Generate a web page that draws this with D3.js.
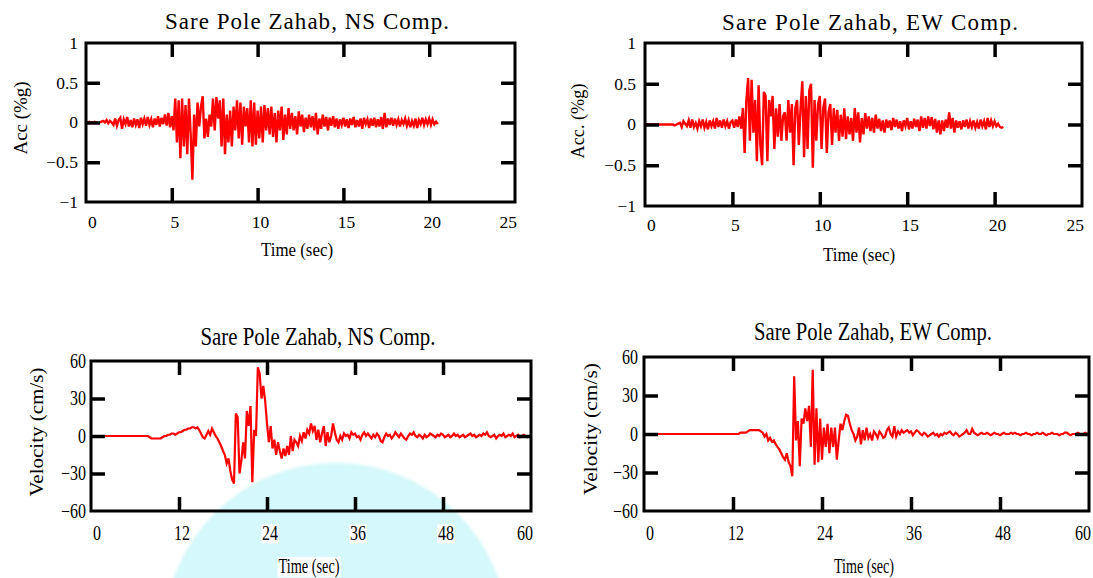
<!DOCTYPE html>
<html>
<head>
<meta charset="utf-8">
<script src="https://cdn.jsdelivr.net/npm/d3@7"></script>
<style>
  body { margin: 0; background: #fff; }
  svg { display: block; font-family: "Liberation Serif", "Times New Roman", serif; }
</style>
</head>
<body>
<div id="chart"></div>
<script>
// ---- data ----
const accStep = 0.1;   // sec between acceleration samples
const velStep = 0.25;  // sec between velocity samples

// NS acceleration (%g), t = 0 .. 20.5 s
const accNS = [
  0,0,0.01,0,0,0.01,0,-0.01,0,0.01,
  0.02,0,0.03,-0.01,0.02,0,-0.03,0.05,-0.04,0.03,
  0.06,-0.08,0.04,-0.02,0.07,-0.05,0.03,-0.06,0.05,-0.03,
  0.04,-0.07,0.06,-0.02,0.05,-0.04,0.07,-0.03,0.04,-0.06,
  0.05,-0.03,0.08,-0.05,0.06,-0.02,0.1,-0.04,0.12,-0.06,
  0.08,-0.1,0.3,-0.25,0.28,-0.45,0.3,-0.3,0.22,-0.4,
  0.3,-0.15,-0.72,0.1,-0.3,0.25,-0.05,0.2,0.33,-0.2,
  0.05,-0.18,0.1,-0.05,0.3,-0.1,0.32,0.05,0.28,-0.3,
  0.3,-0.4,0.1,-0.25,0.15,-0.3,0.2,-0.1,0.28,-0.2,
  0.25,-0.28,0.2,-0.05,0.18,-0.25,0.28,-0.3,0.25,-0.28,
  0.15,-0.2,0.2,-0.25,0.22,-0.1,0.18,-0.15,0.2,-0.18,
  0.12,-0.25,0.15,-0.1,0.2,-0.22,0.1,-0.15,0.18,-0.08,
  0.12,-0.1,0.08,-0.15,0.14,-0.05,0.1,-0.12,0.06,-0.08,
  0.1,-0.06,0.08,-0.1,0.12,-0.15,0.05,-0.08,0.1,-0.05,
  0.07,-0.1,0.06,-0.04,0.08,-0.06,0.05,-0.08,0.04,-0.03,
  0.06,-0.05,0.04,-0.07,0.05,-0.03,0.07,-0.06,0.03,-0.05,
  0.05,-0.08,0.06,-0.02,0.04,-0.07,0.05,-0.04,0.06,-0.06,
  0.04,-0.05,0.07,-0.08,0.12,-0.06,0.05,-0.03,0.06,-0.04,
  0.05,-0.03,0.04,-0.05,0.03,-0.02,0.05,-0.04,0.03,-0.06,
  0.02,-0.04,0.05,-0.07,0.03,-0.02,0.06,-0.03,0.04,-0.02,
  0.05,-0.03,0.04,-0.02,0.01,-0.02
];

// EW acceleration (%g), t = 0 .. 20.5 s
const accEW = [
  0,0,0,0,0,0,0,0,0,0,
  0,0,0,0,0,0,0,-0.01,0,0.01,
  0.02,-0.03,0.04,0.01,-0.02,0.05,-0.04,0.06,-0.03,0.02,
  -0.05,0.04,-0.02,0.06,-0.04,0.03,-0.06,0.05,-0.02,0.04,
  -0.05,0.08,-0.03,0.05,-0.04,0.06,-0.02,0.04,-0.05,0.03,
  0.05,-0.04,0.06,-0.03,0.1,-0.05,0.2,-0.35,0.3,0.57,
  -0.2,0.55,-0.1,0.3,-0.45,0.48,-0.25,-0.5,0.4,0.35,
  -0.45,0.3,0.1,0.35,-0.3,0.2,-0.15,0.25,-0.2,0.1,
  0.15,-0.2,0.3,-0.1,0.25,-0.5,0.2,0.3,-0.25,0.2,
  0.53,-0.4,0.35,-0.3,0.42,0.5,-0.53,0.3,-0.2,0.25,
  0.35,-0.3,0.2,0.32,-0.35,0.15,0.25,-0.25,0.2,-0.1,
  0.18,-0.2,0.12,-0.15,0.2,-0.18,0.1,-0.12,0.08,-0.2,
  0.2,-0.1,0.15,-0.22,0.08,-0.12,0.14,-0.05,0.1,-0.08,
  0.08,-0.1,0.12,-0.05,0.07,-0.08,0.05,-0.1,0.06,-0.04,
  0.05,-0.07,0.08,-0.03,0.06,-0.05,0.04,-0.08,0.05,-0.02,
  0.08,-0.06,0.04,-0.05,0.07,-0.03,0.06,-0.08,0.1,-0.04,
  0.08,-0.05,0.1,-0.02,0.09,-0.06,0.07,-0.1,0.05,-0.12,
  0.05,-0.08,0.06,-0.04,0.15,-0.05,0.08,-0.1,0.05,-0.04,
  0.04,-0.06,0.05,-0.03,0.06,-0.05,0.04,-0.03,0.05,-0.04,
  0.03,-0.05,0.06,-0.02,0.04,-0.06,0.08,-0.03,0.05,-0.02,
  0.04,-0.02,0.01,-0.03,-0.04,-0.03
];

// NS velocity (cm/s), t = 0 .. 60 s
const velNS = [
  0,0,0,0, 0,0,0,0, 0,0,0,0, 0,0,0,0, 0,0,0,0, 0,0,0,0, 0,0,0,0, 0,0,0,0,
  -1,-2,-2,-2, -2,-2,-2,-1,
  0,0,1,1, 2,2,1,2,
  3,3,4,5, 5,6,6,7,
  7,6,7,5, 2,-1,-2,1,
  4,1,6,3,
  0,-2,-5,-8,
  -12,-15,-22,-18,
  -28,-35,-38,18,
  15,-30,-20,-5,
  -18,20,8,24,
  -37,5,0,55,
  50,30,40,28,
  10,-5,8,-10,
  -3,-15,-5,-12,
  -18,-10,-16,-8,
  -15,0,-12,-3,
  -5,-8,0,-4,
  3,-2,5,2,
  10,4,8,-3,
  5,-5,2,8,
  -8,3,-5,0,
  10,3,-3,-5,
  0,-3,2,0,
  1,-2,3,1,
  2,-1,0,-3,
  1,3,0,2,
  0,-2,1,-1,
  2,0,-4,-5,
  -1,2,0,1,
  -2,0,3,1,
  -1,2,0,-2,
  -3,0,2,1,
  3,0,-1,1,
  0,-2,1,-1,
  0,2,1,0,
  -1,1,0,2,
  1,-1,0,1,
  -1,0,2,0,
  1,-1,0,1,
  -1,0,1,2,
  0,1,-1,0,
  1,0,2,1,
  3,0,-1,0,
  1,-2,0,1,
  0,2,-1,0,
  1,0,2,-1,
  0,1,-1,0,
  1,0,-1,0,
  0
];

// EW velocity (cm/s), t = 0 .. 60 s
const velEW = [
  0,0,0,0, 0,0,0,0, 0,0,0,0, 0,0,0,0, 0,0,0,0, 0,0,0,0, 0,0,0,0,
  0,0,0,0, 0,0,0,0, 0,0,0,0, 0,0,0,0, 0,0,0,0, 0,0,0,0,
  1,1,1,1,
  2,3,3,3,
  3,3,3,2,
  1,-2,0,-5,
  -3,-6,-5,-8,
  -10,-12,-15,-18,
  -20,-15,-22,-25,
  -33,45,-5,10,
  -25,12,8,20,
  10,22,-10,50,
  -24,20,-22,12,
  -20,5,-10,8,
  -15,5,-10,5,
  -20,-5,8,3,
  10,15,14,8,
  3,0,-5,-2,
  5,-8,3,-5,
  5,-3,0,-5,
  2,0,-3,2,
  0,-3,-2,3,
  5,0,-2,6,
  -2,2,0,3,
  1,2,3,1,
  2,-1,1,3,
  2,0,-1,1,
  0,-2,-1,0,
  1,-1,0,-2,
  0,-1,1,0,
  1,2,0,-1,
  1,0,-2,-1,
  0,1,3,0,
  0,4,1,0,
  -1,0,1,0,
  0,1,0,-1,
  0,1,0,0,
  -1,0,1,0,
  0,0,1,0,
  1,0,0,-1,
  0,0,1,0,
  0,-1,0,0,
  1,0,0,1,
  0,-1,0,0,
  1,0,0,0,
  -1,0,0,1,
  1,0,-1,0,
  0,0,1,0,
  0,0,1,0,
  0
];

const accXTicks = [0, 5, 10, 15, 20, 25];
const accYTicks = [-1, -0.5, 0, 0.5, 1];
const velXTicks = [0, 12, 24, 36, 48, 60];
const velYTicks = [-60, -30, 0, 30, 60];

const titles = ["Sare Pole Zahab, NS Comp.", "Sare Pole Zahab, EW Comp.",
                "Sare Pole Zahab, NS Comp.", "Sare Pole Zahab, EW Comp."];
const yLabels = ["Acc (%g)", "Acc. (%g)", "Velocity  (cm/s)", "Velocity  (cm/s)"];
const xLabel = "Time (sec)";

// ---- layout ----
const W = 1093, H = 578;

const panels = [
  { values: accNS, step: accStep, xDomain: [0, 25], yDomain: [-1, 1], xTicks: accXTicks, yTicks: accYTicks,
    box: { x0: 86, x1: 515, y0: 43, y1: 202 }, lw: 2.4,
    title: { x: 307, y: 29, len: 284, size: 23, adj: "spacing" },
    xl: { x: 297, y: 256, len: 72, size: 18 }, yl: { x: 21, y: 118, len: 73, size: 18 },
    tick: { size: 17.5, sx: 1, yRight: 78, xY: 228 } },
  { values: accEW, step: accStep, xDomain: [0, 25], yDomain: [-1, 1], xTicks: accXTicks, yTicks: accYTicks,
    box: { x0: 645, x1: 1082, y0: 43, y1: 206 }, lw: 2.4,
    title: { x: 870, y: 30, len: 296, size: 23, adj: "spacing" },
    xl: { x: 859, y: 261, len: 72, size: 18 }, yl: { x: 578, y: 121, len: 75, size: 18 },
    tick: { size: 17.5, sx: 1, yRight: 636, xY: 231 } },
  { values: velNS, step: velStep, xDomain: [0, 60], yDomain: [-60, 60], xTicks: velXTicks, yTicks: velYTicks,
    box: { x0: 91, x1: 531, y0: 361, y1: 511 }, lw: 2.2,
    title: { x: 318, y: 345, len: 235, size: 25, adj: "spacingAndGlyphs" },
    xl: { x: 309, y: 573, len: 61, size: 20 }, yl: { x: 37, y: 432, len: 129, size: 18 },
    tick: { size: 20, sx: 0.8, yRight: 86, xY: 540 } },
  { values: velEW, step: velStep, xDomain: [0, 60], yDomain: [-60, 60], xTicks: velXTicks, yTicks: velYTicks,
    box: { x0: 644, x1: 1089, y0: 357, y1: 511 }, lw: 2.2,
    title: { x: 873, y: 340, len: 238, size: 25, adj: "spacingAndGlyphs" },
    xl: { x: 864, y: 573, len: 60, size: 20 }, yl: { x: 591, y: 429, len: 132, size: 18 },
    tick: { size: 20, sx: 0.8, yRight: 638, xY: 540 } }
];

const svg = d3.select("#chart").append("svg")
  .attr("width", W)
  .attr("height", H);

svg.append("rect").attr("width", W).attr("height", H).attr("fill", "#fff");

// faint cyan watermark behind the lower-left panel
const defs = svg.append("defs");
defs.append("filter").attr("id", "soft")
  .append("feGaussianBlur").attr("stdDeviation", 1.5);
svg.append("circle")
  .attr("cx", 336).attr("cy", 635).attr("r", 172)
  .attr("fill", "#d4f8fb")
  .attr("filter", "url(#soft)");

const fmt = v => (v < 0 ? "\u2212" + Math.abs(v) : String(v));

// text with a white box behind it (hides the watermark like the original)
function boxedText(g, txt, x, y, opts) {
  const wrap = g.append("g").attr("transform", `translate(${x},${y}) scale(${opts.sx || 1},1)`);
  const t = wrap.append("text")
    .attr("font-size", opts.size)
    .attr("text-anchor", opts.anchor || "middle")
    .attr("fill", "#000")
    .text(txt);
  if (opts.len) t.attr("textLength", opts.len / (opts.sx || 1)).attr("lengthAdjust", "spacingAndGlyphs");
  if (opts.bg) {
    const b = t.node().getBBox();
    wrap.insert("rect", "text")
      .attr("x", b.x - 1).attr("y", b.y + 2)
      .attr("width", b.width + 2).attr("height", b.height - 3)
      .attr("fill", "#fff");
  }
  return wrap;
}

function drawPanel(p, i) {
  const g = svg.append("g").attr("class", "panel");
  const b = p.box;

  const x = d3.scaleLinear().domain(p.xDomain).range([b.x0, b.x1]);
  const y = d3.scaleLinear().domain(p.yDomain).range([b.y1, b.y0]);

  // record
  const line = d3.line()
    .x((d, k) => x(k * p.step))
    .y(d => y(d));
  g.append("path")
    .datum(p.values)
    .attr("d", line)
    .attr("fill", "none")
    .attr("stroke", "#ff0000")
    .attr("stroke-width", p.lw)
    .attr("stroke-linejoin", "miter");

  // inward ticks on all four sides
  const innerX = p.xTicks.slice(1, -1);
  const innerY = p.yTicks.slice(1, -1);
  const tk = 14;
  const axes = [
    [d3.axisBottom(x).tickValues(innerX), `translate(0,${b.y1})`],
    [d3.axisTop(x).tickValues(innerX), `translate(0,${b.y0})`],
    [d3.axisLeft(y).tickValues(innerY), `translate(${b.x0},0)`],
    [d3.axisRight(y).tickValues(innerY), `translate(${b.x1},0)`]
  ];
  axes.forEach(([ax, tr]) => {
    const a = g.append("g").attr("transform", tr)
      .call(ax.tickSize(-tk).tickSizeOuter(0).tickFormat(""));
    a.select(".domain").remove();
    a.selectAll(".tick line").attr("stroke", "#000").attr("stroke-width", 3.5);
  });

  // frame
  g.append("rect")
    .attr("x", b.x0).attr("y", b.y0)
    .attr("width", b.x1 - b.x0).attr("height", b.y1 - b.y0)
    .attr("fill", "none")
    .attr("stroke", "#000")
    .attr("stroke-width", 3);

  // y tick labels
  p.yTicks.forEach(v => {
    boxedText(g, fmt(v), p.tick.yRight, y(v) + p.tick.size * 0.33,
      { size: p.tick.size, sx: p.tick.sx, anchor: "end" });
  });

  // x tick labels (first / last kept inside the frame)
  p.xTicks.forEach((v, k) => {
    let anchor = "middle", xx = x(v) + 3;
    if (k === 0) { anchor = "start"; xx = x(v) + 2; }
    if (k === p.xTicks.length - 1) { anchor = "end"; xx = x(v) + 2; }
    boxedText(g, fmt(v), xx, p.tick.xY,
      { size: p.tick.size, sx: p.tick.sx, anchor: anchor, bg: true });
  });

  // title
  g.append("text")
    .attr("x", p.title.x).attr("y", p.title.y)
    .attr("text-anchor", "middle")
    .attr("font-size", p.title.size)
    .attr("textLength", p.title.len)
    .attr("lengthAdjust", p.title.adj)
    .text(titles[i]);

  // axis titles
  boxedText(g, xLabel, p.xl.x, p.xl.y, { size: p.xl.size, len: p.xl.len, bg: true });

  g.append("text")
    .attr("transform", `translate(${p.yl.x},${p.yl.y}) rotate(-90)`)
    .attr("dy", "0.35em")
    .attr("text-anchor", "middle")
    .attr("font-size", p.yl.size)
    .attr("textLength", p.yl.len)
    .attr("lengthAdjust", "spacingAndGlyphs")
    .text(yLabels[i]);
}

panels.forEach(drawPanel);
</script>
</body>
</html>
